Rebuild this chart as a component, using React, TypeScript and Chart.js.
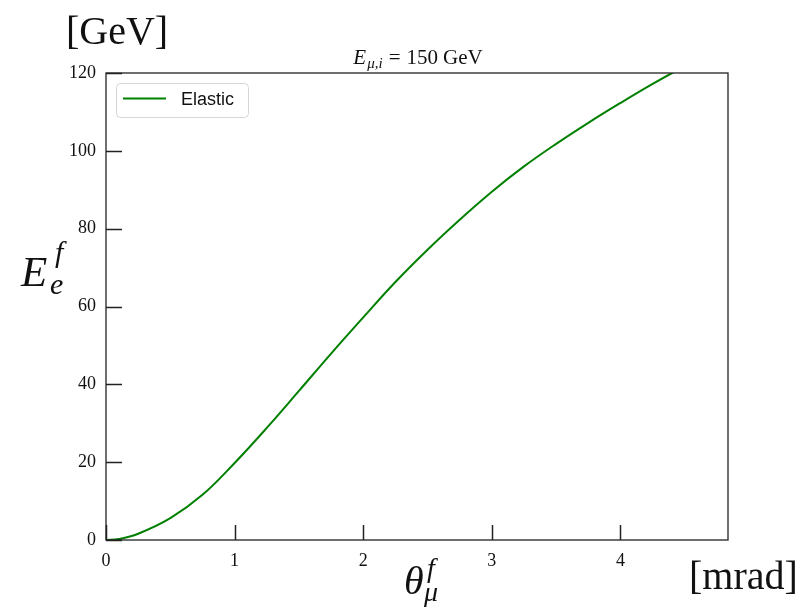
import React, { useEffect, useRef } from "react";
import { Chart, registerables } from "chart.js";

Chart.register(...registerables);

// Scattered muon angle θ_μ^f [mrad] and outgoing electron energy E_e^f [GeV]
const thetaMu = [0, 0.1, 0.25, 0.5, 0.75, 1.0, 1.25, 1.5, 1.75, 2.0, 2.25, 2.5, 2.75, 3.0, 3.25, 3.5, 3.75, 4.0, 4.25, 4.5];
const energyE = [0, 0.25, 1.6, 5.6, 11.6, 19.8, 28.8, 38.3, 47.9, 57.2, 66.3, 74.6, 82.3, 89.5, 96.0, 101.8, 107.2, 112.3, 117.2, 121.8];

const xTicks = [0, 1, 2, 3, 4];
const yTicks = [0, 20, 40, 60, 80, 100, 120];
const xMax = 4.836;
const yMax = 120;
const seriesLabel = "Elastic";
const seriesColor = "#008000";

const SERIF = "'Liberation Serif', 'DejaVu Serif', serif";
const SANS = "'Liberation Sans', Arial, sans-serif";

type Piece = { t: string; size: number; italic?: boolean; dy?: number; gap?: number };

function drawPieces(ctx: CanvasRenderingContext2D, x: number, y: number, pieces: Piece[], align: "left" | "center" = "left") {
  const fontOf = (p: Piece) => `${p.italic ? "italic " : ""}${p.size}px ${SERIF}`;
  let total = 0;
  for (const p of pieces) {
    ctx.font = fontOf(p);
    total += ctx.measureText(p.t).width + (p.gap || 0);
  }
  let cx = align === "center" ? x - total / 2 : x;
  ctx.textAlign = "left";
  ctx.textBaseline = "alphabetic";
  for (const p of pieces) {
    ctx.font = fontOf(p);
    ctx.fillText(p.t, cx, y + (p.dy || 0));
    cx += ctx.measureText(p.t).width + (p.gap || 0);
  }
}

const decorations = {
  id: "decorations",
  afterDraw(chart: any) {
    const { ctx, chartArea } = chart;
    const { left, right, top, bottom } = chartArea;
    const xs = chart.scales.x;
    const ys = chart.scales.y;
    ctx.save();

    // frame
    ctx.strokeStyle = "#222";
    ctx.lineWidth = 1.3;
    ctx.strokeRect(left, top, right - left, bottom - top);

    // inward ticks on left and bottom
    ctx.lineWidth = 1.5;
    ctx.beginPath();
    for (const v of yTicks) {
      const py = Math.round(ys.getPixelForValue(v)) + 0.5;
      ctx.moveTo(left, py);
      ctx.lineTo(left + 16, py);
    }
    for (const v of xTicks) {
      const px = Math.round(xs.getPixelForValue(v)) + 0.5;
      ctx.moveTo(px, bottom);
      ctx.lineTo(px, bottom - 15);
    }
    ctx.stroke();

    // legend
    const lx = 116.5, ly = 83.5, lw = 132, lh = 34, r = 4;
    ctx.beginPath();
    ctx.moveTo(lx + r, ly);
    ctx.lineTo(lx + lw - r, ly);
    ctx.quadraticCurveTo(lx + lw, ly, lx + lw, ly + r);
    ctx.lineTo(lx + lw, ly + lh - r);
    ctx.quadraticCurveTo(lx + lw, ly + lh, lx + lw - r, ly + lh);
    ctx.lineTo(lx + r, ly + lh);
    ctx.quadraticCurveTo(lx, ly + lh, lx, ly + lh - r);
    ctx.lineTo(lx, ly + r);
    ctx.quadraticCurveTo(lx, ly, lx + r, ly);
    ctx.closePath();
    ctx.fillStyle = "rgba(255,255,255,0.85)";
    ctx.fill();
    ctx.strokeStyle = "#d6d6d6";
    ctx.lineWidth = 1;
    ctx.stroke();
    ctx.strokeStyle = seriesColor;
    ctx.lineWidth = 2;
    ctx.beginPath();
    ctx.moveTo(123, 98.5);
    ctx.lineTo(166, 98.5);
    ctx.stroke();
    ctx.fillStyle = "#111";
    ctx.font = `18px ${SANS}`;
    ctx.textAlign = "left";
    ctx.textBaseline = "middle";
    ctx.fillText(seriesLabel, 181, 100);

    // texts around the axes
    ctx.fillStyle = "#111";
    drawPieces(ctx, 418, 64, [
      { t: "E", size: 21, italic: true, gap: 1 },
      { t: "μ,i", size: 15, italic: true, dy: 4, gap: 6 },
      { t: "=", size: 21, gap: 6 },
      { t: "150", size: 21, gap: 5 },
      { t: "GeV", size: 21 },
    ], "center");
    drawPieces(ctx, 66, 44, [{ t: "[GeV]", size: 40 }]);
    drawPieces(ctx, 21, 286, [{ t: "E", size: 43, italic: true }]);
    drawPieces(ctx, 55, 262, [{ t: "f", size: 30, italic: true }]);
    drawPieces(ctx, 50, 294, [{ t: "e", size: 30, italic: true }]);
    drawPieces(ctx, 404, 594, [{ t: "θ", size: 40, italic: true }]);
    drawPieces(ctx, 427, 577, [{ t: "f", size: 28, italic: true }]);
    drawPieces(ctx, 424, 601, [{ t: "μ", size: 28, italic: true }]);
    drawPieces(ctx, 689, 589, [{ t: "[mrad]", size: 40 }]);

    ctx.restore();
  },
};

export default function App() {
  const ref = useRef<HTMLCanvasElement | null>(null);

  useEffect(() => {
    if (!ref.current) return;
    const chart = new Chart(ref.current, {
      type: "line",
      data: {
        datasets: [
          {
            label: seriesLabel,
            data: thetaMu.map((x, i) => ({ x, y: energyE[i] })),
            borderColor: seriesColor,
            borderWidth: 2,
            pointRadius: 0,
            fill: false,
            tension: 0.4,
          },
        ],
      },
      options: {
        animation: false,
        responsive: false,
        maintainAspectRatio: false,
        layout: { padding: { left: 0, right: 82, top: 73, bottom: 0 } },
        plugins: {
          legend: { display: false },
          tooltip: { enabled: false },
          title: { display: false },
        },
        scales: {
          x: {
            type: "linear",
            min: 0,
            max: xMax,
            grid: { display: false, drawTicks: false },
            border: { display: false },
            afterBuildTicks: (s: any) => {
              s.ticks = xTicks.map((v) => ({ value: v }));
            },
            afterFit: (s: any) => {
              s.height = 73;
            },
            ticks: {
              padding: 10,
              color: "#111",
              maxRotation: 0,
              font: { family: SERIF, size: 18 },
              callback: (v: any) => String(v),
            },
          },
          y: {
            type: "linear",
            min: 0,
            max: yMax,
            grid: { display: false, drawTicks: false },
            border: { display: false },
            afterBuildTicks: (s: any) => {
              s.ticks = yTicks.map((v) => ({ value: v }));
            },
            afterFit: (s: any) => {
              s.width = 106;
            },
            ticks: {
              padding: 10,
              color: "#111",
              font: { family: SERIF, size: 18 },
              callback: (v: any) => String(v),
            },
          },
        },
      },
      plugins: [decorations],
    });
    return () => chart.destroy();
  }, []);

  return (
    <div style={{ position: "fixed", left: 0, top: 0, width: 810, height: 613, background: "#fff" }}>
      <canvas ref={ref} width={810} height={613} style={{ display: "block" }} />
    </div>
  );
}
